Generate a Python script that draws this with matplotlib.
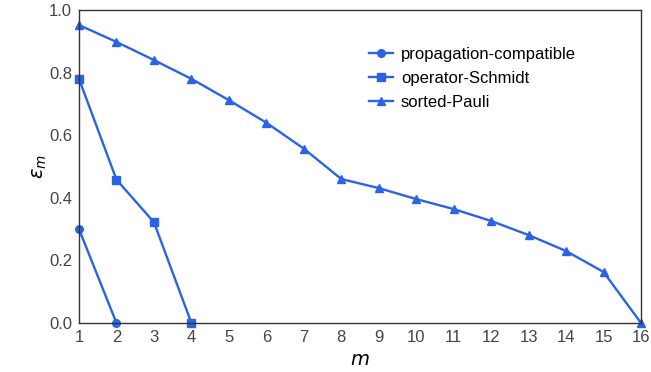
import numpy as np
import matplotlib.pyplot as plt

plt.rcParams['font.family'] = ['Liberation Sans', 'DejaVu Sans']

blue = '#2a63e6'

m_prop = [1, 2]
eps_prop = [0.30, 0.0]

m_schmidt = [1, 2, 3, 4]
eps_schmidt = [0.78, 0.458, 0.322, 0.0]

m_pauli = list(range(1, 17))
eps_pauli = [0.952, 0.898, 0.840, 0.780, 0.712, 0.640, 0.557, 0.460,
             0.431, 0.396, 0.364, 0.326, 0.281, 0.230, 0.163, 0.0]

fig = plt.figure(figsize=(6.51, 3.72), dpi=100)
ax = fig.add_axes([79/651, 49/372, 562/651, 313/372])

ax.plot(m_prop, eps_prop, '-o', color=blue, lw=1.7, ms=5.5, clip_on=False,
        label='propagation-compatible')
ax.plot(m_schmidt, eps_schmidt, '-s', color=blue, lw=1.7, ms=5.5, clip_on=False,
        label='operator-Schmidt')
ax.plot(m_pauli, eps_pauli, '-^', color=blue, lw=1.7, ms=6, clip_on=False,
        label='sorted-Pauli')

ax.set_xlim(1, 16)
ax.set_ylim(0, 1.0)
ax.set_xticks(range(1, 17))
ax.set_yticks(np.arange(0, 1.01, 0.2))
ax.set_yticklabels(['%.1f' % v for v in np.arange(0, 1.01, 0.2)])
ax.tick_params(length=0, pad=5, labelsize=12, labelcolor='#444444')
for s in ax.spines.values():
    s.set_color('#333333')
    s.set_linewidth(1.0)

ax.set_xlabel('$m$', fontsize=14, labelpad=5)
ax.set_ylabel(r'$\varepsilon_m$', fontsize=14, labelpad=0)

ax.legend(loc='upper left', bbox_to_anchor=(0.49, 0.93), frameon=False,
          fontsize=12, handlelength=1.4, handletextpad=0.5, labelspacing=0.55)

fig.savefig('out.png', dpi=100)
